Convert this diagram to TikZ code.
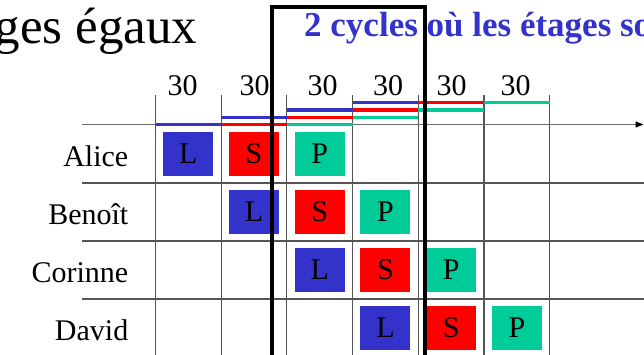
\documentclass[tikz,border=0pt]{standalone}
\usepackage{fontspec}
\setmainfont{Liberation Serif}
\usetikzlibrary{arrows.meta}
\definecolor{stL}{RGB}{51,51,204}
\definecolor{stS}{RGB}{255,0,0}
\definecolor{stP}{RGB}{0,204,153}
\definecolor{gridgray}{RGB}{85,85,85}
\definecolor{axisgray}{RGB}{110,110,110}

\begin{document}
\begin{tikzpicture}[x=1pt,y=-1pt,
  gridline/.style={draw=gridgray,line width=1.1pt},
  rowline/.style={draw=gridgray,line width=1.3pt},
  axisline/.style={draw=axisgray,line width=1.4pt,-{Triangle[length=8pt,width=6pt,fill=black,color=black]}},
  bar/.style={line width=3.4pt},
  stagebox/.style={minimum width=50pt,minimum height=44pt,inner sep=0pt,
    font=\fontsize{30}{30}\selectfont},
  personlabel/.style={anchor=base east,inner sep=0pt,font=\fontsize{30}{30}\selectfont},
  durlabel/.style={anchor=base,inner sep=0pt,font=\fontsize{30}{30}\selectfont},
  cyclewindow/.style={draw=black,line width=3.6pt}]
\useasboundingbox (0,0) rectangle (644,354);

% column grid
\foreach \i in {0,...,6}
  \draw[gridline] (155.5+65.7*\i,95) -- (155.5+65.7*\i,360);
% row separators
\foreach \y in {183,241,299}
  \draw[rowline] (82,\y) -- (644,\y);
% time axis
\coordinate (axstart) at (82,124.5);
\coordinate (axend) at (643.5,124.5);
\draw[axisline] (axstart) -- (axend);

% stage occupation bars, one level per person
\foreach \p in {0,...,3}
  \foreach \s/\c in {0/stL,1/stS,2/stP}
    \draw[bar,\c] (155.5+65.7*\p+65.7*\s,124.5-7.3*\p) -- ++(65.7,0);

% durations
\foreach \x [count=\k] in {182.7,254.6,322.5,388,451.6,515.6}
  \node[durlabel] (d\k) at (\x,95) {30};

% people
\foreach \n [count=\p from 0] in {Alice,Benoît,Corinne,David}
  \node[personlabel] (n\p) at (128.5,166+58*\p) {\n};

% stage boxes
\foreach \p in {0,...,3}
  \foreach \s/\c/\t in {0/stL/L,1/stS/S,2/stP/P}
    \node[stagebox,fill=\c] (b\p\s) at (155.5+65.7*\p+65.7*\s+32.85,154+58*\p) {\t};

% title and comment
\node[anchor=base west,inner sep=0pt,font=\fontsize{51}{51}\selectfont] (title) at (-5.5,43.5) {ges égaux};
\node[anchor=base west,inner sep=0pt,text=stL,font=\fontsize{35}{35}\selectfont\bfseries] (note) at (304,36) {2 cycles où les étages so};

% two-cycle window
\draw[cyclewindow] (272,360) -- (272,7) -- (425,7) -- (425,360);
\end{tikzpicture}
\end{document}
